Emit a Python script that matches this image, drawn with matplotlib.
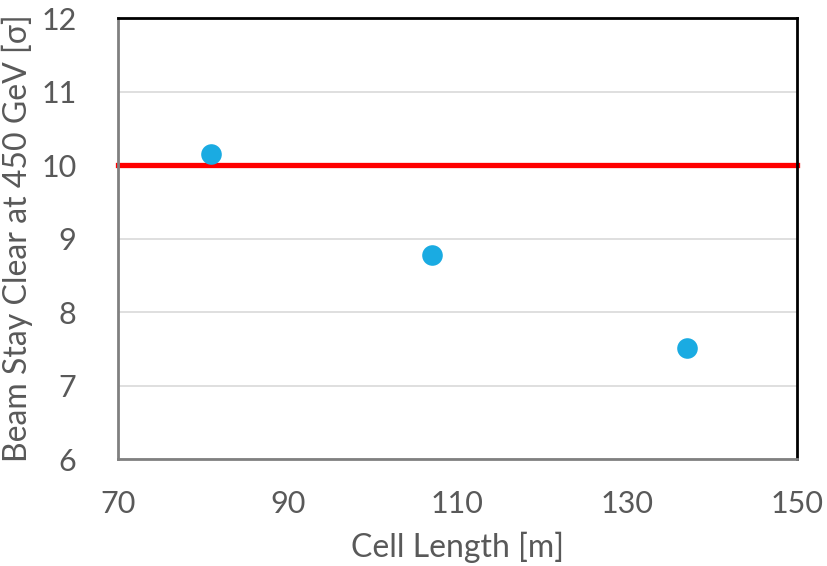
import numpy as np
import matplotlib
matplotlib.use('Agg')
import matplotlib.pyplot as plt

# cell length [m] vs beam stay clear at injection
cell_length = [81, 107, 137]
bsc = [10.15, 8.78, 7.51]
limit_x = [70, 150]
limit_y = [10.0, 10.0]

plt.rcParams['font.family'] = ['Lato', 'DejaVu Sans']

fig = plt.figure(figsize=(8.28, 5.66), dpi=100)
ax = fig.add_axes([0.1425, 0.189, 0.820, 0.779])

ax.plot(limit_x, limit_y, c='#ff0000', lw=3.8, clip_on=False, zorder=2)
ax.scatter(cell_length, bsc, s=220, c='#1aabe2', zorder=3, linewidths=0)

ax.set_xlim(70, 150)
ax.set_ylim(6, 12)
ax.set_xticks([70, 90, 110, 130, 150])
ax.set_yticks([6, 7, 8, 9, 10, 11, 12])
ax.grid(True, axis='y', color='#d9d9d9', lw=1.2)
ax.set_axisbelow(True)

for s in ['top', 'right']:
    ax.spines[s].set_color('black')
    ax.spines[s].set_linewidth(2)
for s in ['left', 'bottom']:
    ax.spines[s].set_color('#808080')
    ax.spines[s].set_linewidth(2)

ax.tick_params(length=0, labelsize=22, labelcolor='#595959')
ax.tick_params(axis='x', pad=22)
ax.tick_params(axis='y', pad=30)
ax.set_xlabel('Cell Length [m]', fontsize=23, color='#595959', labelpad=10)
ax.set_ylabel('Beam Stay Clear at 450 GeV [σ]', fontsize=23, color='#595959', labelpad=6)

fig.savefig('out.png', dpi=100)
